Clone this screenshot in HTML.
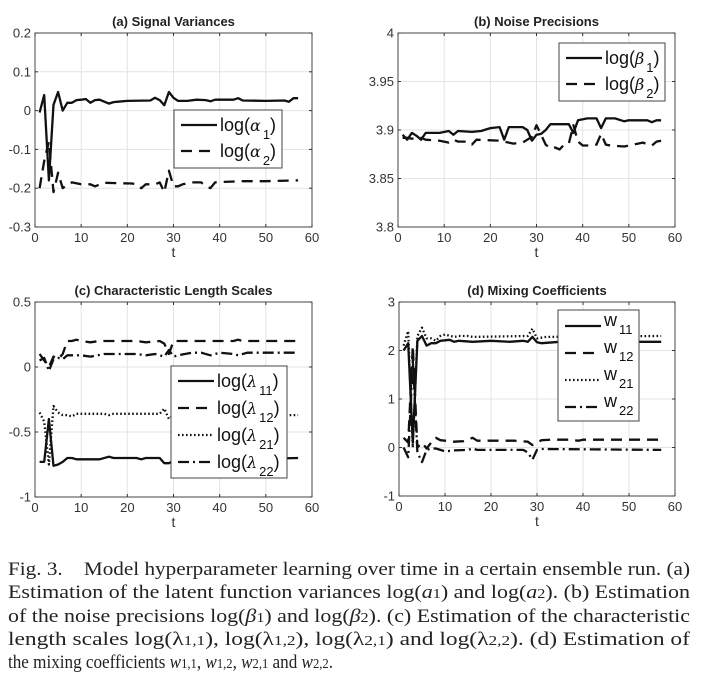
<!DOCTYPE html>
<html><head><meta charset="utf-8"><style>
html,body{margin:0;padding:0;background:#fff;}
svg{display:block;font-family:"Liberation Sans",sans-serif;}
.cap{font-family:"Liberation Serif",serif;font-size:19px;fill:#222;}
</style></head><body>
<svg id="fig" width="701" height="687" viewBox="0 0 701 687" xmlns="http://www.w3.org/2000/svg">
<g id="panels"></g>
<g>
<text class="cap" x="8" y="575" textLength="682" lengthAdjust="spacingAndGlyphs">Fig. 3.&#160;&#160;&#160; Model hyperparameter learning over time in a certain ensemble run. (a)</text>
<text class="cap" x="8" y="598" textLength="682" lengthAdjust="spacingAndGlyphs">Estimation of the latent function variances log(<tspan font-style="italic">a</tspan><tspan font-size="14">1</tspan>) and log(<tspan font-style="italic">a</tspan><tspan font-size="14">2</tspan>). (b) Estimation</text>
<text class="cap" x="8" y="622" textLength="682" lengthAdjust="spacingAndGlyphs">of the noise precisions log(<tspan font-style="italic">β</tspan><tspan font-size="14">1</tspan>) and log(<tspan font-style="italic">β</tspan><tspan font-size="14">2</tspan>). (c) Estimation of the characteristic</text>
<text class="cap" x="8" y="645" textLength="682" lengthAdjust="spacingAndGlyphs">length scales log(λ<tspan font-size="14">1,1</tspan>), log(λ<tspan font-size="14">1,2</tspan>), log(λ<tspan font-size="14">2,1</tspan>) and log(λ<tspan font-size="14">2,2</tspan>). (d) Estimation of</text>
<text class="cap" x="8" y="668" textLength="325" lengthAdjust="spacingAndGlyphs">the mixing coefficients <tspan font-style="italic">w</tspan><tspan font-size="14">1,1</tspan>, <tspan font-style="italic">w</tspan><tspan font-size="14">1,2</tspan>, <tspan font-style="italic">w</tspan><tspan font-size="14">2,1</tspan> and <tspan font-style="italic">w</tspan><tspan font-size="14">2,2</tspan>.</text>
</g>
</svg>
<script>
// ---- data (t, value) ----
const aT1 = [1,2,3,4,5,6,7,8,9,10,11,12,13,14,15,16,17,18,20,25,26,27,28,29,30,31,33,35,37,38,39,43,44,45,50,54,55,56,57];
const aV1 = [-0.005,0.04,-0.18,0.015,0.048,0,0.02,0.02,0.027,0.028,0.03,0.02,0.027,0.028,0.023,0.018,0.022,0.023,0.025,0.026,0.033,0.027,0.014,0.048,0.033,0.025,0.025,0.028,0.027,0.024,0.028,0.028,0.032,0.026,0.025,0.026,0.023,0.032,0.032];
const aT2 = [1,2,3,4,5,6,7,8,10,12,13,15,18,21,22,23,24,26,27,28,29,30,31,32,34,36,37,38,39,40,45,50,57];
const aV2 = [-0.2,-0.13,-0.08,-0.21,-0.16,-0.2,-0.19,-0.185,-0.19,-0.19,-0.195,-0.186,-0.187,-0.188,-0.19,-0.2,-0.19,-0.19,-0.185,-0.21,-0.155,-0.195,-0.195,-0.19,-0.185,-0.185,-0.195,-0.2,-0.185,-0.184,-0.182,-0.182,-0.18];
const bT1 = [1,2,3,4,5,6,9,11,12,13,16,18,20,22,23,24,27,28,29,30,31,32,33,37,38,39,41,43,44,45,47,49,50,54,55,56,57];
const bV1 = [3.895,3.89,3.897,3.894,3.89,3.897,3.897,3.899,3.895,3.899,3.898,3.899,3.902,3.903,3.89,3.903,3.903,3.9,3.889,3.895,3.896,3.9,3.906,3.906,3.897,3.91,3.912,3.912,3.902,3.912,3.912,3.909,3.91,3.91,3.908,3.91,3.91];
const bT2 = [1,2,3,5,6,9,11,12,13,15,16,17,22,24,25,27,28,29,30,31,32,33,34,35,36,37,38,39,40,42,43,44,45,46,49,52,53,55,56,57];
const bV2 = [3.892,3.892,3.891,3.892,3.89,3.889,3.887,3.89,3.888,3.888,3.885,3.89,3.889,3.887,3.886,3.887,3.89,3.893,3.905,3.895,3.885,3.881,3.882,3.88,3.885,3.886,3.905,3.888,3.884,3.884,3.885,3.896,3.885,3.884,3.883,3.886,3.887,3.884,3.888,3.889];
const cT11 = [1,2,3,4,5,6,7,8,9,14,16,17,22,23,24,27,28,29,30,57];
const cV11 = [-0.73,-0.73,-0.4,-0.76,-0.75,-0.73,-0.7,-0.7,-0.71,-0.71,-0.69,-0.7,-0.7,-0.71,-0.7,-0.7,-0.74,-0.74,-0.72,-0.7];
const cT12 = [1,2,3,4,5,6,7,8,9,10,12,14,18,22,24,27,28,29,30,31,40,43,44,45,57];
const cV12 = [0.1,0.05,0.0,0.08,0.06,0.1,0.2,0.2,0.21,0.2,0.19,0.2,0.2,0.2,0.19,0.2,0.18,0.1,0.2,0.2,0.2,0.2,0.21,0.2,0.2];
const cT21 = [1,2,3,4,5,6,7,8,9,15,16,17,27,28,29,30,57];
const cV21 = [-0.35,-0.42,-0.75,-0.3,-0.35,-0.37,-0.37,-0.38,-0.36,-0.36,-0.37,-0.36,-0.36,-0.32,-0.4,-0.37,-0.37];
const cT22 = [1,2,3,4,5,6,7,8,10,12,15,22,24,26,28,29,30,31,34,36,38,40,43,44,46,57];
const cV22 = [0.05,0.07,-0.03,0.06,0.07,0.06,0.09,0.09,0.09,0.08,0.1,0.1,0.09,0.1,0.08,0.13,0.08,0.09,0.11,0.11,0.09,0.11,0.1,0.09,0.11,0.11];
const dT11 = [1,2,3,4,5,6,7,8,9,11,12,13,16,20,24,27,28,29,30,31,35,57];
const dV11 = [2.0,2.15,0.1,2.2,2.3,2.1,2.15,2.15,2.2,2.22,2.18,2.2,2.18,2.2,2.18,2.2,2.18,2.28,2.17,2.15,2.18,2.18];
const dT12 = [1,2,3,4,5,6,7,8,9,12,14,16,17,25,28,29,30,31,33,37,39,40,57];
const dV12 = [0.2,0.1,2.1,0,0.1,-0.02,0.1,0.2,0.15,0.12,0.13,0.2,0.14,0.14,0.12,0.05,0.1,0.15,0.16,0.16,0.14,0.16,0.16];
const dT21 = [1,2,3,4,5,6,7,8,9,10,12,13,15,16,28,29,30,32,57];
const dV21 = [2.1,2.4,0.0,2.3,2.47,2.25,2.25,2.2,2.3,2.33,2.28,2.3,2.3,2.28,2.3,2.45,2.25,2.28,2.3];
const dT22 = [1,2,3,4,5,6,7,8,9,10,12,15,16,17,27,28,29,30,31,57];
const dV22 = [0.0,-0.2,1.8,-0.1,-0.3,-0.05,-0.02,-0.02,-0.05,-0.08,-0.06,-0.05,-0.02,-0.05,-0.05,-0.1,-0.25,-0.05,-0.03,-0.05];
const xTicks = [0,10,20,30,40,50,60];
const aTicks = [-0.3,-0.2,-0.1,0,0.1,0.2];
const aTickLabels = ["-0.3","-0.2","-0.1","0","0.1","0.2"];
const bTicks = [3.8,3.85,3.9,3.95,4];
const bTickLabels = ["3.8","3.85","3.9","3.95","4"];
const cTicks = [-1,-0.5,0,0.5];
const cTickLabels = ["-1","-0.5","0","0.5"];
const dTicks = [-1,0,1,2,3];
const dTickLabels = ["-1","0","1","2","3"];

const NS = "http://www.w3.org/2000/svg";
const root = document.getElementById('panels');
function mk(tag, attrs, parent){const e=document.createElementNS(NS,tag);for(const k in attrs)e.setAttribute(k,attrs[k]);parent.appendChild(e);return e;}
const DASH = {solid:"", dash:"11,7", dot:"1.6,2.4", dashdot:"11,4,2,4"};

function panel(p){
  const g = mk('g',{},root);
  
  
  const X = t => p.L + (t-0)/(60-0)*(p.R-p.L);
  const Y = v => p.B - (v-p.ymin)/(p.ymax-p.ymin)*(p.B-p.T);
  xTicks.forEach(t=>{ if(t>0&&t<60){const l=mk('line',{x1:X(t),x2:X(t),y1:p.T,y2:p.B,stroke:'#e3e3e3','stroke-width':1},g);
    
    }});
  p.ticks.forEach(v=>{const l=mk('line',{x1:p.L,x2:p.R,y1:Y(v),y2:Y(v),stroke:'#e3e3e3','stroke-width':1},g);
    
    });
  const clipId='clip'+p.id;
  const cp=mk('clipPath',{id:clipId},g); mk('rect',{x:p.L,y:p.T,width:p.R-p.L,height:p.B-p.T},cp);
  p.series.forEach(s=>{
    const d=s.t.map((t,i)=>(i?'L':'M')+X(t).toFixed(1)+','+Y(s.v[i]).toFixed(1)).join('');
    const path=mk('path',{d:d,fill:'none',stroke:'#111','stroke-width':2.3,'stroke-dasharray':DASH[s.style],'stroke-linejoin':'round','clip-path':'url(#'+clipId+')'},g);
    
    
  });
  const box=mk('rect',{x:p.L,y:p.T,width:p.R-p.L,height:p.B-p.T,fill:'none',stroke:'#333','stroke-width':0.9},g);
  
  
  xTicks.forEach(t=>{
    mk('line',{x1:X(t),x2:X(t),y1:p.B,y2:p.B-3,stroke:'#333'},g);
    mk('line',{x1:X(t),x2:X(t),y1:p.T,y2:p.T+3,stroke:'#333'},g);
    const tx=mk('text',{x:X(t),y:p.B+15,'text-anchor':'middle','font-size':13,fill:'#333'},g);
    tx.textContent=t;
    
    
  });
  p.ticks.forEach((v,i)=>{
    mk('line',{x1:p.L,x2:p.L+3,y1:Y(v),y2:Y(v),stroke:'#333'},g);
    mk('line',{x1:p.R,x2:p.R-3,y1:Y(v),y2:Y(v),stroke:'#333'},g);
    const tx=mk('text',{x:p.L-4,y:Y(v)+4.5,'text-anchor':'end','font-size':13,fill:'#333'},g);
    tx.textContent=p.tickLabels[i];
    
    
  });
  const xl=mk('text',{x:(p.L+p.R)/2,y:p.B+30,'text-anchor':'middle','font-size':14,fill:'#333'},g);
  xl.textContent='t';
  
  
  const ti=mk('text',{x:(p.L+p.R)/2,y:p.T-7,'text-anchor':'middle','font-size':13,'font-weight':'bold',fill:'#222'},g);
  ti.textContent=p.title;
  
  
  const lg=p.legend;
  const lgG=mk('g',{},g);
  
  
  mk('rect',{x:lg.x,y:lg.y,width:lg.w,height:lg.h,fill:'#fff',stroke:'#444','stroke-width':1},lgG);
  p.series.forEach((s,i)=>{
    const cy=lg.y+lg.pad+i*lg.step;
    mk('line',{x1:lg.x+7,x2:lg.x+7+lg.len,y1:cy,y2:cy,stroke:'#111','stroke-width':2.3,'stroke-dasharray':DASH[s.style]},lgG);
    const tx=mk('text',{x:lg.x+10+lg.len,y:cy+(p.id==='d'?0:6),'font-size':lg.fs,fill:'#111'},lgG);
    
    
    const lab=s.label;
    const t1=document.createElementNS(NS,'tspan'); t1.textContent=lab[0]; tx.appendChild(t1);
    if(lab[1]){const t2=document.createElementNS(NS,'tspan'); t2.setAttribute('font-style','italic'); t2.setAttribute('font-family','"DejaVu Serif",serif'); t2.setAttribute('font-size',lg.fs-2); t2.textContent=lab[1]; tx.appendChild(t2);}
    const t3=document.createElementNS(NS,'tspan'); t3.setAttribute('font-size',lg.fs*0.72); t3.setAttribute('dy',8); t3.setAttribute('dx',2); t3.textContent=lab[2]; tx.appendChild(t3);
    if(lab[3]){const t4=document.createElementNS(NS,'tspan'); t4.setAttribute('dy',-8); t4.textContent=lab[3]; tx.appendChild(t4);}
  });
}

panel({id:'a',name:'panel-a-signal-variances',title:'(a) Signal Variances',L:35,R:312,T:33,B:227,ymin:-0.3,ymax:0.2,ticks:aTicks,tickLabels:aTickLabels,
  series:[{name:'line-log-alpha1',t:aT1,v:aV1,style:'solid',label:['log(','α','1',')']},{name:'line-log-alpha2',t:aT2,v:aV2,style:'dash',label:['log(','α','2',')']}],
  legend:{x:174,y:110,w:108,h:58,pad:15,step:26,len:36,fs:18}});
panel({id:'b',name:'panel-b-noise-precisions',title:'(b) Noise Precisions',L:398,R:675,T:33,B:227,ymin:3.8,ymax:4.0,ticks:bTicks,tickLabels:bTickLabels,
  series:[{name:'line-log-beta1',t:bT1,v:bV1,style:'solid',label:['log(','β','1',')']},{name:'line-log-beta2',t:bT2,v:bV2,style:'dash',label:['log(','β','2',')']}],
  legend:{x:559,y:43,w:106,h:58,pad:15,step:26,len:36,fs:18}});
panel({id:'c',name:'panel-c-length-scales',title:'(c) Characteristic Length Scales',L:35,R:312,T:302,B:497,ymin:-1,ymax:0.5,ticks:cTicks,tickLabels:cTickLabels,
  series:[{name:'line-log-lambda11',t:cT11,v:cV11,style:'solid',label:['log(','λ','11',')']},{name:'line-log-lambda12',t:cT12,v:cV12,style:'dash',label:['log(','λ','12',')']},
          {name:'line-log-lambda21',t:cT21,v:cV21,style:'dot',label:['log(','λ','21',')']},{name:'line-log-lambda22',t:cT22,v:cV22,style:'dashdot',label:['log(','λ','22',')']}],
  legend:{x:171,y:366,w:116,h:112,pad:15,step:27,len:36,fs:18}});
panel({id:'d',name:'panel-d-mixing-coefficients',title:'(d) Mixing Coefficients',L:399,R:675,T:302,B:496,ymin:-1,ymax:3,ticks:dTicks,tickLabels:dTickLabels,
  series:[{name:'line-w11',t:dT11,v:dV11,style:'solid',label:['w','','11','']},{name:'line-w12',t:dT12,v:dV12,style:'dash',label:['w','','12','']},
          {name:'line-w21',t:dT21,v:dV21,style:'dot',label:['w','','21','']},{name:'line-w22',t:dT22,v:dV22,style:'dashdot',label:['w','','22','']}],
  legend:{x:558,y:310,w:81,h:111,pad:16,step:27,len:36,fs:18}});
</script>
</body></html>
